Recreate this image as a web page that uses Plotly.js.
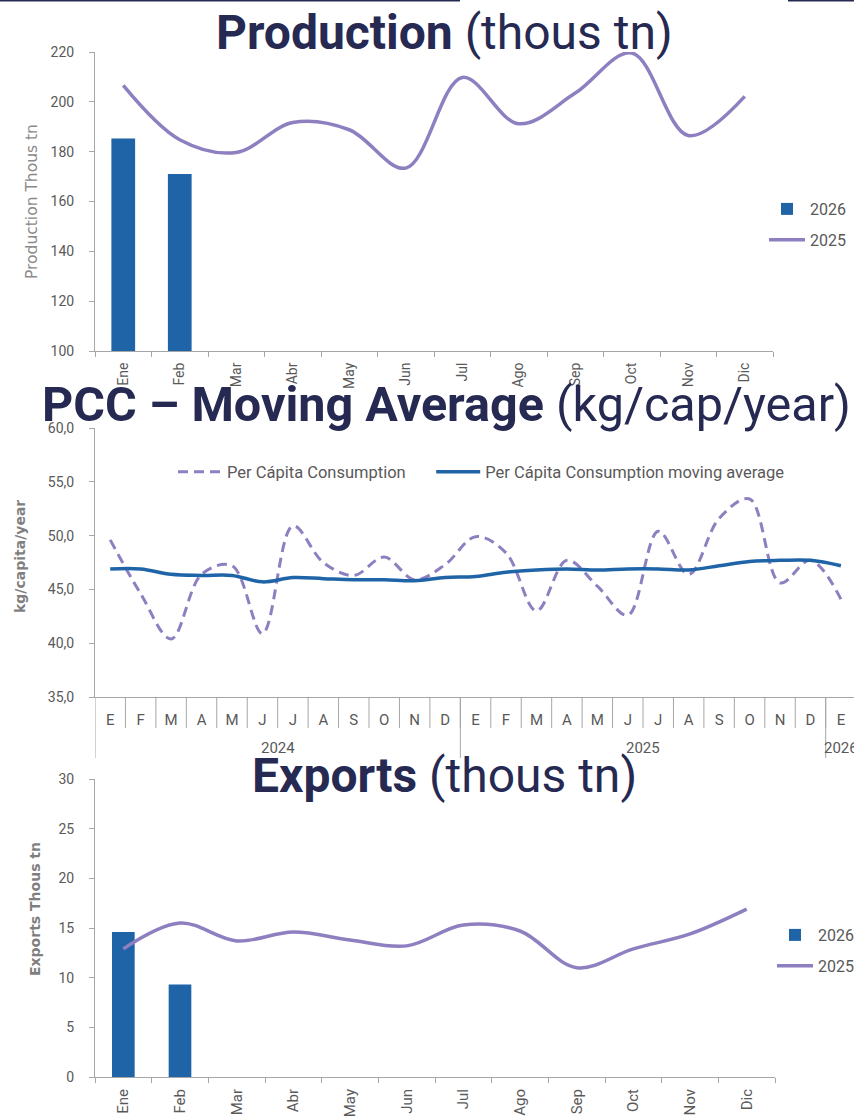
<!DOCTYPE html>
<html><head><meta charset="utf-8">
<script src="https://cdn.plot.ly/plotly-3.0.1.min.js"></script>
<style>html,body{margin:0;padding:0;background:#fff;overflow:hidden;width:854px;height:1117px}#chart{width:854px;height:1117px;overflow:hidden}</style>
</head><body><div id="chart"></div>
<script>
// ---------- DATA ----------
const months = ['Ene','Feb','Mar','Abr','May','Jun','Jul','Ago','Sep','Oct','Nov','Dic'];
const prod2026 = [185.3, 171.0];
const prod2025 = [206.6, 184.8, 179.7, 191.7, 188.8, 173.4, 209.8, 191.2, 203.5, 219.6, 186.5, 202.2];

const pccYears = ['2024','2024','2024','2024','2024','2024','2024','2024','2024','2024','2024','2024',
                  '2025','2025','2025','2025','2025','2025','2025','2025','2025','2025','2025','2025',
                  '2026'];
const pccMonths = ['E','F','M','A','M','J','J','A','S','O','N','D',
                   'E','F','M','A','M','J','J','A','S','O','N','D',
                   'E'];
const pcc   = [49.6, 44.6, 40.4, 46.4, 47.2, 40.9, 50.9, 47.5, 46.3, 48.0, 45.9, 47.3,
               49.9, 48.4, 43.0, 47.7, 45.3, 42.6, 50.4, 46.4, 51.6, 53.4, 45.6, 47.7,
               44.1];
const pccMA = [46.9, 46.9, 46.4, 46.3, 46.3, 45.7, 46.1, 46.0, 45.9, 45.9, 45.8, 46.1,
               46.2, 46.6, 46.8, 46.9, 46.8, 46.9, 46.9, 46.8, 47.2, 47.6, 47.7, 47.7,
               47.2];

const exp2026 = [14.6, 9.3];
const exp2025 = [12.9, 15.5, 13.7, 14.6, 13.8, 13.2, 15.3, 14.7, 11.0, 12.9, 14.4, 16.9];

// ---------- STYLE ----------
const W = 854, H = 1117;
const BLUE = '#1f64a7', LAV = '#8e7fc1', NAVY = '#262a52';
const TICK = '#595959', AXL = '#a6a6a6';
const px = v => v / W, py = v => 1 - v / H;
const PAD = '\u00A0\u00A0\u00A0\u00A0\u00A0';

// month index positions on the PCC time axis
const pccIdx = pccMonths.map((m, i) => i);
// year groups (start index and centre) derived from pccYears
const yearList = pccYears.filter((y, i) => pccYears.indexOf(y) === i);
const yearGroups = yearList.map(y => {
  const idx = pccIdx.filter(i => pccYears[i] === y);
  return {year: y, start: idx[0], centre: (idx[0] + idx[idx.length - 1]) / 2};
});

const traces = [
  {type:'bar', x: months.slice(0, prod2026.length), y: prod2026, name:'2026',
   marker:{color:BLUE}, width:0.42, xaxis:'x', yaxis:'y', legend:'legend', legendgroup:'a'},
  {type:'scatter', mode:'lines', x: months, y: prod2025, name:'2025',
   line:{color:LAV, width:3.5, shape:'spline', smoothing:1}, xaxis:'x', yaxis:'y', legend:'legend', legendgroup:'b'},

  {type:'scatter', mode:'lines', x: pccIdx, y: pcc, name:'Per Cápita Consumption' + PAD,
   line:{color:LAV, width:3, dash:'10px,6px', shape:'spline', smoothing:1}, xaxis:'x2', yaxis:'y2', legend:'legend2'},
  {type:'scatter', mode:'lines', x: pccIdx, y: pccMA, name:'Per Cápita Consumption moving average',
   line:{color:BLUE, width:3.5, shape:'spline', smoothing:1}, xaxis:'x2', yaxis:'y2', legend:'legend2'},

  {type:'bar', x: months.slice(0, exp2026.length), y: exp2026, name:'2026',
   marker:{color:BLUE}, width:0.4, xaxis:'x3', yaxis:'y3', legend:'legend3', legendgroup:'c'},
  {type:'scatter', mode:'lines', x: months, y: exp2025, name:'2025',
   line:{color:LAV, width:3.5, shape:'spline', smoothing:1}, xaxis:'x3', yaxis:'y3', legend:'legend3', legendgroup:'d'}
];

const catAxis = (dom, anchor, fs) => ({
  domain: dom, anchor: anchor, type:'category', categoryorder:'array', categoryarray: months,
  range:[-0.5, 11.5], tickangle:-90, ticks:'outside', ticklen:5, tickcolor:AXL, tickson:'boundaries',
  showline:true, linecolor:AXL, linewidth:1, showgrid:false, zeroline:false, ticklabelstandoff: 5,
  tickfont:{family:'Roboto', size:fs, color:TICK}, fixedrange:true
});
const valAxis = (dom, anchor, range, dtick, fmt) => ({
  domain: dom, anchor: anchor, range: range, dtick: dtick, tickformat: fmt || '',
  ticks:'outside', ticklen:5, tickcolor:AXL, showline:true, linecolor:AXL, linewidth:1,
  showgrid:false, zeroline:false, tickfont:{family:'Roboto', size:14, color:TICK},
  ticklabelstandoff: 12, fixedrange:true
});

const yd1 = [py(351), py(52)];
const yd2 = [py(697), py(428)];
const yd3 = [py(1077), py(779)];

// month separators below the PCC axis (category boundaries)
const sepShapes = pccIdx.slice(1).map(i => ({
  type:'line', xref:'x2', yref:'paper', x0: i - 0.5, x1: i - 0.5,
  y0: yd2[0], y1: yd2[0] - 31 / H, line:{color:AXL, width:1}
}));
// year dividers
const yearShapes = yearGroups.map(g => ({
  type:'line', xref:'x2', yref:'paper', x0: g.start - 0.5, x1: g.start - 0.5,
  y0: yd2[0], y1: yd2[0] - 61 / H, line:{color:AXL, width:1}
}));
const yearLabels = yearGroups.map(g => ({
  text: g.year, xref:'x2', yref:'paper', x: g.centre, y: py(748), xanchor:'center', yanchor:'middle',
  showarrow:false, font:{family:'Roboto', size:15, color:TICK}
}));

const layout = {
  width: W, height: H, margin:{l:0, r:0, t:0, b:0, autoexpand:false},
  paper_bgcolor:'#fff', plot_bgcolor:'rgba(0,0,0,0)',
  separators: ',.', showlegend: true,
  xaxis:  catAxis([px(95), px(773)], 'y', 14),
  yaxis:  valAxis(yd1, 'x', [100, 220], 20),
  xaxis2: {domain:[px(95), 1], anchor:'y2', type:'linear', range:[-0.5, 24.43],
           tickmode:'array', tickvals: pccIdx, ticktext: pccMonths,
           ticks:'outside', ticklen:9, tickcolor:'rgba(0,0,0,0)', showline:true, linecolor:AXL, linewidth:1,
           showgrid:false, zeroline:false, tickangle:0,
           tickfont:{family:'Roboto', size:15, color:TICK}, fixedrange:true},
  yaxis2: valAxis(yd2, 'x2', [35, 60], 5, '.1f'),
  xaxis3: catAxis([px(95), px(775)], 'y3', 15),
  yaxis3: valAxis(yd3, 'x3', [0, 30], 5),
  legend:  {x: px(764), xanchor:'left', y: py(192), yanchor:'top', bgcolor:'rgba(0,0,0,0)',
            font:{family:'Roboto', size:16, color:TICK}, tracegroupgap: 7, itemwidth: 36},
  legend2: {orientation:'h', x: px(173), xanchor:'left', y: py(472), yanchor:'middle', bgcolor:'rgba(0,0,0,0)',
            font:{family:'Roboto', size:16.5, color:TICK}, itemwidth: 44},
  legend3: {x: px(772), xanchor:'left', y: py(918), yanchor:'top', bgcolor:'rgba(0,0,0,0)',
            font:{family:'Roboto', size:16, color:TICK}, tracegroupgap: 7, itemwidth: 36},
  shapes: [
    {type:'line', xref:'paper', yref:'paper', x0:0, x1:px(460), y0:1, y1:1, line:{color:NAVY, width:3}},
    {type:'line', xref:'paper', yref:'paper', x0:px(788), x1:1, y0:1, y1:1, line:{color:NAVY, width:3}}
  ].concat(sepShapes, yearShapes),
  annotations: [
    {text:'<b>Production</b> (thous tn)', xref:'paper', yref:'paper', x: px(444), y: py(33),
     xanchor:'center', yanchor:'middle', showarrow:false, font:{family:'Roboto', size:48, color:NAVY}},
    {text:'<b>PCC – Moving Average</b> (kg/cap/year)', xref:'paper', yref:'paper', x: px(446), y: py(404),
     xanchor:'center', yanchor:'middle', showarrow:false, font:{family:'Roboto', size:48.5, color:NAVY}},
    {text:'<b>Exports</b> (thous tn)', xref:'paper', yref:'paper', x: px(444), y: py(776),
     xanchor:'center', yanchor:'middle', showarrow:false, font:{family:'Roboto', size:48, color:NAVY}},
    {text:'Production Thous tn', xref:'paper', yref:'paper', x: px(32), y: py(202), textangle:-90,
     xanchor:'center', yanchor:'middle', showarrow:false, font:{family:'DejaVu Sans', size:15.5, color:'#8a8a8a'}},
    {text:'<b>kg/capita/year</b>', xref:'paper', yref:'paper', x: px(20), y: py(557), textangle:-90,
     xanchor:'center', yanchor:'middle', showarrow:false, font:{family:'DejaVu Sans', size:14, color:'#7f7f7f'}},
    {text:'<b>Exports Thous tn</b>', xref:'paper', yref:'paper', x: px(35), y: py(909), textangle:-90,
     xanchor:'center', yanchor:'middle', showarrow:false, font:{family:'DejaVu Sans', size:14, color:'#7f7f7f'}}
  ].concat(yearLabels)
};

Plotly.newPlot('chart', traces, layout, {displayModeBar:false, staticPlot:true});
</script>
</body></html>
